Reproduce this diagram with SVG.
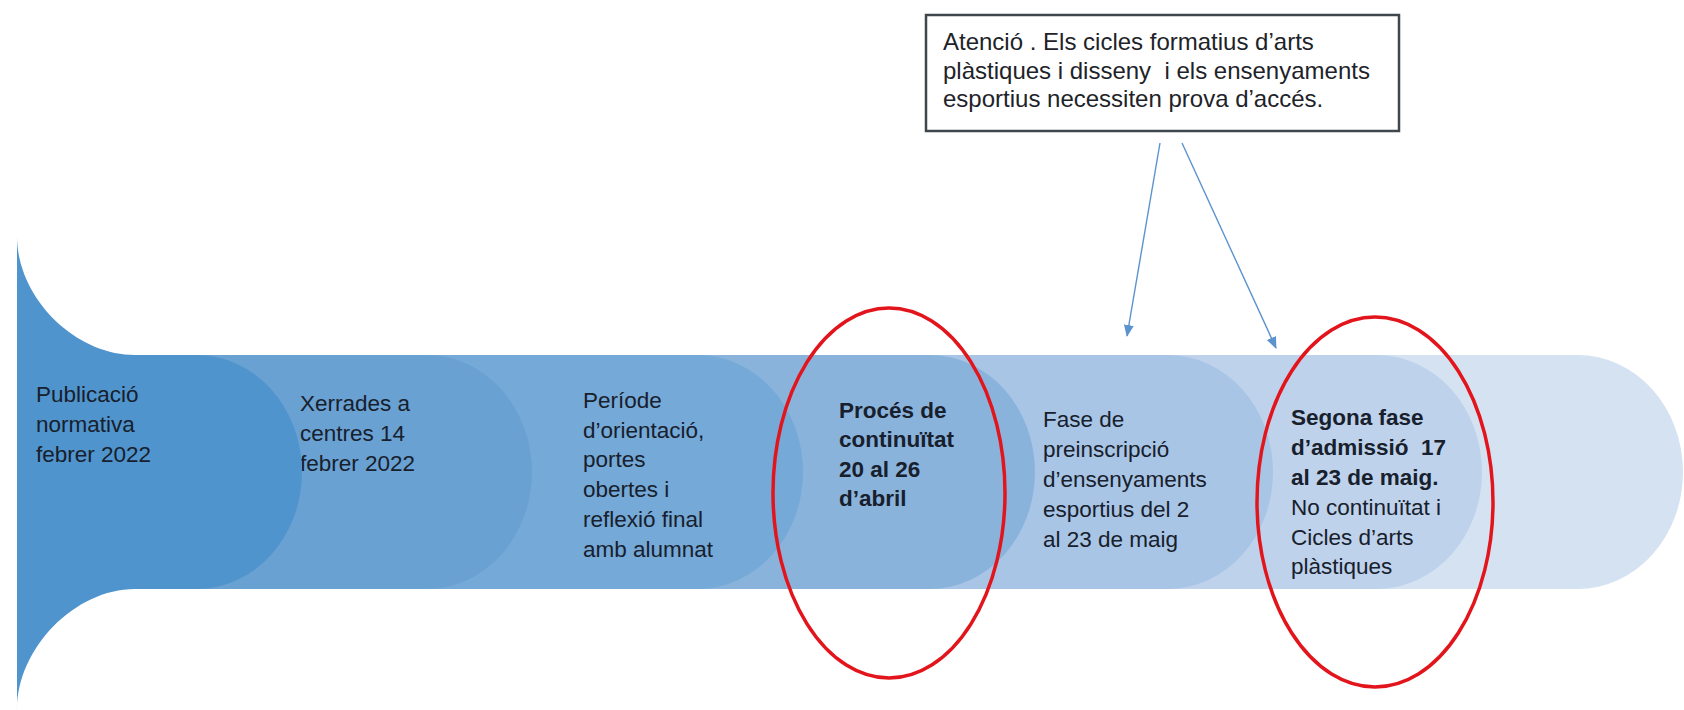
<svg xmlns="http://www.w3.org/2000/svg" width="1684" height="710" viewBox="0 0 1684 710">
  <defs>
    <marker id="ah" viewBox="0 0 12 10" refX="11" refY="5" markerWidth="12" markerHeight="10" markerUnits="userSpaceOnUse" orient="auto">
      <path d="M0,0 L12,5 L0,10 Z" fill="#5B93CF"/>
    </marker>
    <style>
      .t { font-family: "Liberation Sans", Arial, sans-serif; font-size: 22.5px; fill: #17202C; white-space: pre; }
      .b { font-weight: bold; }
      .bx { font-family: "Liberation Sans", Arial, sans-serif; font-size: 24px; fill: #1E2329; white-space: pre; }
      .conn { stroke: #5B93CF; stroke-width: 1.4; fill: none; marker-end: url(#ah); }
      .ring { fill: none; stroke: #E3151C; stroke-width: 3.5; }
    </style>
  </defs>
  <rect width="1684" height="710" fill="#FFFFFF"/>

  <!-- band background (last stage) -->
  <g id="band">
    <path d="M17,355 H1578 A105,117 0 0 1 1578,589 H17 Z" fill="#D5E2F2"/>
  </g>
  <g id="node6">
    <path d="M17,355 H1377 A105,117 0 0 1 1377,589 H17 Z" fill="#BED2EB"/>
    <text class="t" xml:space="preserve"><tspan class="b" x="1291" y="425">Segona fase</tspan><tspan class="b" x="1291" y="455">d’admissió  17</tspan><tspan class="b" x="1291" y="485">al 23 de maig.</tspan><tspan x="1291" y="515">No continuïtat i</tspan><tspan x="1291" y="545">Cicles d’arts</tspan><tspan x="1291" y="574">plàstiques</tspan></text>
  </g>
  <g id="node5">
    <path d="M17,355 H1168 A105,117 0 0 1 1168,589 H17 Z" fill="#A8C5E5"/>
    <text class="t"><tspan x="1043" y="427">Fase de</tspan><tspan x="1043" y="457">preinscripció</tspan><tspan x="1043" y="487">d’ensenyaments</tspan><tspan x="1043" y="517">esportius del 2</tspan><tspan x="1043" y="547">al 23 de maig</tspan></text>
  </g>
  <g id="node4">
    <path d="M17,355 H930 A105,117 0 0 1 930,589 H17 Z" fill="#8AB3DC"/>
    <text class="t b"><tspan x="839" y="418">Procés de</tspan><tspan x="839" y="447">continuïtat</tspan><tspan x="839" y="477">20 al 26</tspan><tspan x="839" y="506">d’abril</tspan></text>
  </g>
  <g id="node3">
    <path d="M17,355 H698 A105,117 0 0 1 698,589 H17 Z" fill="#75A9D7"/>
    <text class="t"><tspan x="583" y="408">Període</tspan><tspan x="583" y="438">d’orientació,</tspan><tspan x="583" y="467">portes</tspan><tspan x="583" y="497">obertes i</tspan><tspan x="583" y="527">reflexió final</tspan><tspan x="583" y="557">amb alumnat</tspan></text>
  </g>
  <g id="node2">
    <path d="M17,355 H427 A105,117 0 0 1 427,589 H17 Z" fill="#6AA1D3"/>
    <text class="t"><tspan x="300" y="411">Xerrades a</tspan><tspan x="300" y="441">centres 14</tspan><tspan x="300" y="471">febrer 2022</tspan></text>
  </g>
  <g id="node1">
    <path d="M17,236 C17,298 75,355 135,355 H197 A105,117 0 0 1 197,589 H135 C75,589 17,648 17,710 Z" fill="#5094CD"/>
    <text class="t"><tspan x="36" y="402">Publicació</tspan><tspan x="36" y="432">normativa</tspan><tspan x="36" y="462">febrer 2022</tspan></text>
  </g>

  <g id="note">
    <rect x="926" y="15" width="473" height="116" fill="#FFFFFF" stroke="#3F464C" stroke-width="2.5"/>
    <text class="bx" xml:space="preserve"><tspan x="943" y="50">Atenció . Els cicles formatius d’arts</tspan><tspan x="943" y="79">plàstiques i disseny  i els ensenyaments</tspan><tspan x="943" y="107">esportius necessiten prova d’accés.</tspan></text>
  </g>

  <g id="highlights">
    <ellipse class="ring" cx="889" cy="493" rx="116" ry="185"/>
    <ellipse class="ring" cx="1375" cy="502" rx="118" ry="185"/>
  </g>

  <g id="connectors">
    <line class="conn" x1="1160" y1="143" x2="1127" y2="336"/>
    <line class="conn" x1="1182" y1="143" x2="1276" y2="348"/>
  </g>
</svg>
